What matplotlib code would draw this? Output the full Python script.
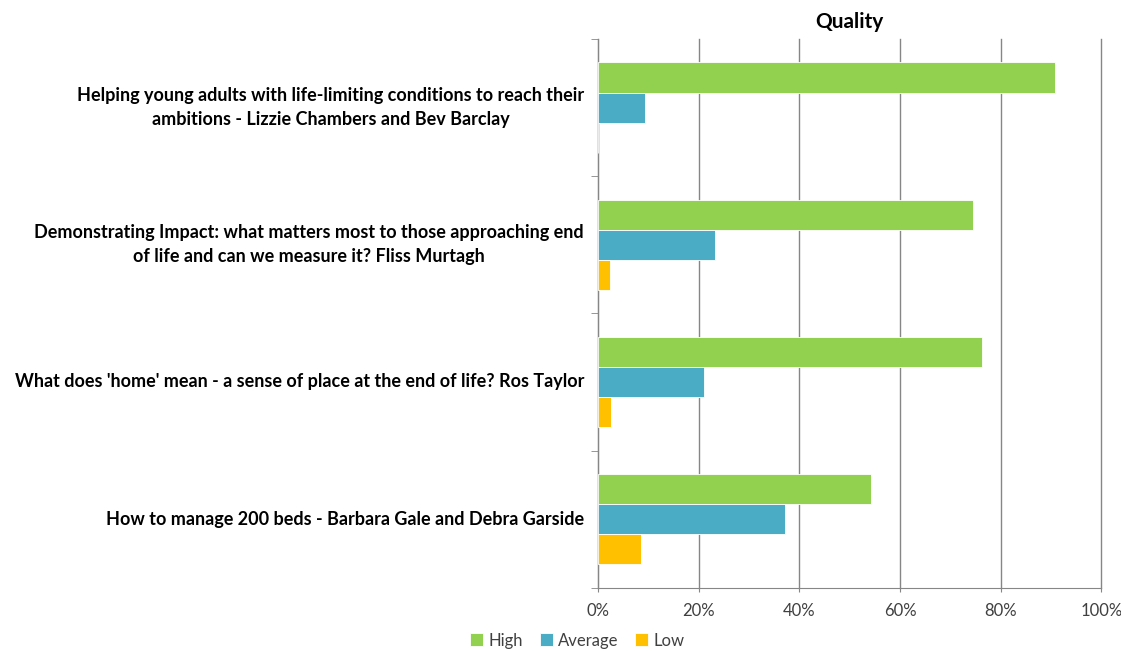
import numpy as np
import matplotlib.pyplot as plt
from matplotlib.ticker import PercentFormatter

plt.rcParams["font.family"] = ["Lato", "DejaVu Sans"]

sessions = [
    "Helping young adults with life-limiting conditions to reach their\nambitions - Lizzie Chambers and Bev Barclay",
    "Demonstrating Impact: what matters most to those approaching end\nof life and can we measure it? Fliss Murtagh",
    "What does 'home' mean - a sense of place at the end of life? Ros Taylor",
    "How to manage 200 beds - Barbara Gale and Debra Garside",
]
high = [90.7, 74.4, 76.3, 54.3]
average = [9.3, 23.3, 21.1, 37.1]
low = [0.0, 2.3, 2.6, 8.6]
series = ["High", "Average", "Low"]
colors = ["#92D050", "#4BACC6", "#FFC000"]

fig = plt.figure(figsize=(11.21, 6.51), dpi=100)
ax = fig.add_axes([0.5334, 0.0972, 0.4492, 0.8428])

y = np.arange(len(sessions))
h = 0.22
for k, (name, vals, c) in enumerate(zip(series, [high, average, low], colors)):
    ax.barh(y + (k - 1) * h, vals, height=h, color=c, edgecolor="white",
            linewidth=0.6, label=name, zorder=3)

ax.set_xlim(0, 100)
ax.set_ylim(len(sessions) - 0.5, -0.5)
ax.xaxis.set_major_formatter(PercentFormatter(decimals=0))
ax.set_xticks(np.arange(0, 101, 20))
ax.grid(axis="x", color="#868686", linewidth=1.0, zorder=0)
for gl in ax.get_xgridlines():
    gl.set_clip_on(False)

ax.set_yticks(y)
ax.set_yticklabels(sessions, fontsize=13, fontweight="bold",
                   multialignment="center", linespacing=1.5, va="center")
ax.tick_params(axis="y", length=0, pad=10)
ax.set_yticks(np.arange(-0.5, len(sessions)), minor=True)
ax.tick_params(axis="y", which="minor", length=5, color="#868686")
ax.tick_params(axis="x", length=3, color="#868686", labelsize=12,
               labelcolor="#404040", pad=8)

for s in ["top", "right"]:
    ax.spines[s].set_visible(False)
for s in ["left", "bottom"]:
    ax.spines[s].set_color("#868686")

ax.set_title("Quality", fontsize=15, fontweight="bold", pad=8)

fig.legend(loc="center", bbox_to_anchor=(0.515, 0.016), ncol=3, frameon=False,
           fontsize=12, handlelength=0.8, handleheight=0.8, handletextpad=0.3,
           columnspacing=1.0, labelcolor="#404040")

fig.savefig("out.png", dpi=100)
